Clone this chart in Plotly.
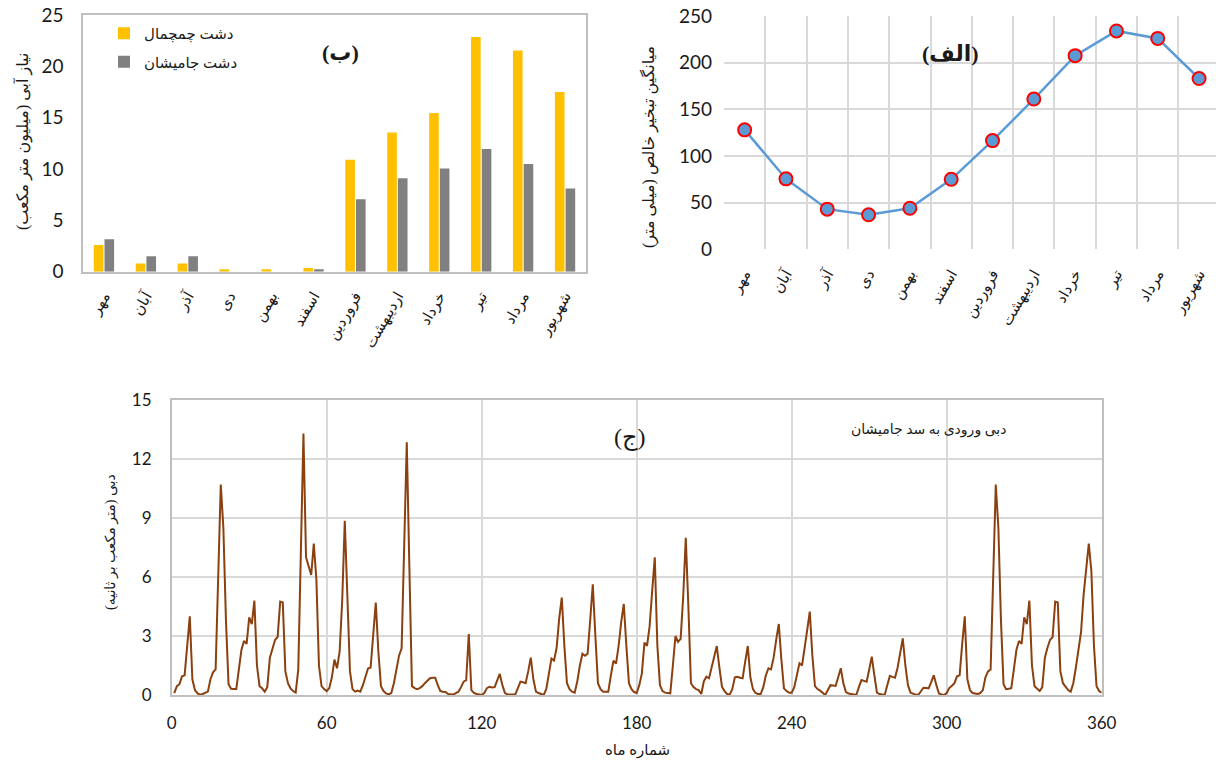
import plotly.graph_objects as go

# ---------------- data ----------------
months = ["مهر", "آبان", "آذر", "دی", "بهمن", "اسفند",
          "فروردین", "اردیبهشت", "خرداد", "تیر", "مرداد", "شهریور"]

# panel (ب): water demand (million m3)
demand_chamchamal = [2.6, 0.8, 0.8, 0.25, 0.25, 0.35, 10.9, 13.55, 15.45, 22.85, 21.55, 17.5]
demand_jamishan = [3.15, 1.5, 1.5, 0.0, 0.0, 0.25, 7.05, 9.1, 10.05, 11.95, 10.5, 8.1]

# panel (الف): mean net evaporation (mm)
evaporation = [128, 75.5, 43, 37, 44, 75, 116.5, 161, 207.5, 234, 226, 183]

# panel (ج): monthly inflow to Jamishan dam (m3/s), one row per year
inflow_years = [
    [0.1, 0.45, 0.55, 0.95, 1.0, 2.6, 4.0, 0.8, 0.25, 0.08, 0.02, 0.05],
    [0.1, 0.17, 0.8, 1.15, 1.3, 6.4, 10.7, 8.5, 3.8, 0.55, 0.32, 0.3],
    [0.3, 1.3, 2.3, 2.75, 2.6, 3.95, 3.6, 4.8, 1.5, 0.45, 0.34, 0.17],
    [0.4, 1.9, 2.4, 2.8, 2.95, 4.75, 4.7, 1.2, 0.6, 0.34, 0.2, 0.12],
    [1.3, 7.0, 13.3, 7.0, 6.5, 6.1, 7.7, 5.9, 1.5, 0.45, 0.3, 0.2],
    [0.35, 0.9, 1.8, 1.36, 2.2, 4.8, 8.86, 5.5, 1.2, 0.3, 0.17, 0.22],
    [0.17, 0.5, 0.95, 1.35, 1.4, 2.9, 4.7, 2.2, 0.45, 0.2, 0.08, 0.03],
    [0.1, 0.6, 1.4, 2.0, 2.37, 7.2, 12.85, 6.5, 0.45, 0.35, 0.3, 0.35],
    [0.45, 0.6, 0.75, 0.85, 0.88, 0.88, 0.5, 0.2, 0.17, 0.15, 0.05, 0.02],
    [0.02, 0.1, 0.17, 0.4, 0.68, 0.75, 3.1, 0.25, 0.1, 0.05, 0.02, 0.0],
    [0.1, 0.35, 0.42, 0.38, 0.4, 0.75, 1.07, 0.5, 0.1, 0.03, 0.02, 0.02],
    [0.03, 0.35, 0.68, 0.65, 0.6, 1.2, 1.9, 0.8, 0.17, 0.1, 0.05, 0.0],
    [0.3, 1.2, 1.85, 1.75, 2.4, 3.9, 4.95, 2.5, 0.6, 0.3, 0.17, 0.12],
    [0.7, 1.5, 2.1, 2.0, 2.1, 3.8, 5.63, 3.0, 0.6, 0.3, 0.17, 0.17],
    [0.17, 1.0, 1.75, 1.6, 2.5, 3.7, 4.63, 2.5, 0.6, 0.3, 0.15, 0.1],
    [0.5, 1.1, 2.66, 2.5, 3.5, 5.3, 7.0, 2.5, 0.5, 0.2, 0.12, 0.1],
    [0.08, 1.5, 3.0, 2.7, 2.85, 5.0, 8.0, 4.5, 0.6, 0.4, 0.3, 0.25],
    [0.05, 0.7, 0.93, 0.85, 1.4, 2.0, 2.49, 1.4, 0.42, 0.2, 0.05, 0.02],
    [0.3, 0.9, 0.93, 0.88, 0.85, 1.7, 2.49, 0.9, 0.3, 0.1, 0.05, 0.05],
    [0.4, 1.0, 1.36, 1.3, 1.9, 2.8, 3.61, 1.8, 0.34, 0.2, 0.12, 0.12],
    [0.4, 1.0, 1.61, 1.5, 2.3, 3.3, 4.24, 2.0, 0.45, 0.3, 0.22, 0.1],
    [0.0, 0.25, 0.5, 0.48, 0.46, 0.9, 1.36, 0.6, 0.15, 0.08, 0.05, 0.02],
    [0.0, 0.4, 0.76, 0.72, 0.68, 1.3, 1.95, 1.0, 0.12, 0.05, 0.02, 0.0],
    [0.5, 0.97, 0.92, 0.88, 1.4, 2.1, 2.88, 1.5, 0.5, 0.12, 0.05, 0.02],
    [0.0, 0.2, 0.37, 0.36, 0.34, 0.65, 1.0, 0.5, 0.08, 0.03, 0.0, 0.1],
    [0.35, 0.47, 0.6, 0.95, 1.0, 2.6, 4.0, 0.8, 0.25, 0.1, 0.06, 0.05],
    [0.1, 0.25, 0.9, 1.2, 1.3, 6.4, 10.7, 8.5, 3.8, 0.55, 0.3, 0.32],
    [0.35, 1.3, 2.3, 2.75, 2.6, 3.95, 3.6, 4.8, 1.5, 0.45, 0.34, 0.2],
    [0.4, 1.9, 2.4, 2.8, 2.95, 4.75, 4.7, 1.2, 0.6, 0.4, 0.25, 0.17],
    [0.6, 1.4, 2.2, 3.2, 5.1, 6.5, 7.7, 6.3, 2.5, 0.45, 0.2, 0.12],
]
inflow = [v for year in inflow_years for v in year]
month_index = list(range(1, len(inflow) + 1))

# ---------------- styling ----------------
FA = "Liberation Serif, DejaVu Sans, serif"
NUM = "Lato, Carlito, Calibri, sans-serif"
GRID = "#d9d9d9"
AXL = "#bfbfbf"
TXT = "#1a1a1a"

fig = go.Figure()

fig.add_trace(go.Bar(x=months, y=demand_chamchamal, name="دشت چمچمال",
                     marker=dict(color="#FFC000", line=dict(width=0)),
                     xaxis="x", yaxis="y", legendgroup="a"))
fig.add_trace(go.Bar(x=months, y=demand_jamishan, name="دشت جامیشان",
                     marker=dict(color="#808080", line=dict(width=0)),
                     xaxis="x", yaxis="y", legendgroup="b"))

fig.add_trace(go.Scatter(x=months, y=evaporation, mode="lines+markers",
                         xaxis="x2", yaxis="y2", showlegend=False,
                         line=dict(color="#5B9BD5", width=2.5),
                         marker=dict(size=13, color="#5B9BD5",
                                     line=dict(color="#FF0000", width=2))))

fig.add_trace(go.Scatter(x=month_index, y=inflow, mode="lines",
                         xaxis="x3", yaxis="y3", showlegend=False,
                         line=dict(color="#8B4010", width=2)))

W, H = 1216, 763


def px(x):
    return x / W


def py(y):
    return 1 - y / H


fig.update_layout(
    width=W, height=H,
    margin=dict(l=0, r=0, t=0, b=0),
    paper_bgcolor="white", plot_bgcolor="white",
    barmode="group", bargap=0.49, bargroupgap=0.1,
    font=dict(family=NUM, color=TXT),
    legend=dict(x=px(104), y=py(17), xanchor="left", yanchor="top",
                bgcolor="rgba(0,0,0,0)", tracegroupgap=6,
                font=dict(family=FA, size=15, color=TXT)),
    xaxis=dict(domain=[px(83), px(586)], anchor="y", type="category",
               range=[-0.5, 11.5], tickangle=-60, ticks="", automargin=False,
               ticklabelstandoff=8,
               tickfont=dict(family=FA, size=15, color=TXT),
               showline=True, mirror=True, linecolor=AXL, linewidth=1.5,
               showgrid=False, zeroline=False),
    yaxis=dict(domain=[py(271.7), py(15)], anchor="x", range=[0, 25], dtick=5,
               showline=True, mirror=True, linecolor=AXL, linewidth=1.5,
               showgrid=False, zeroline=False, ticks="", automargin=False,
               ticklabelstandoff=14,
               tickfont=dict(family=NUM, size=19, color=TXT)),
    xaxis2=dict(domain=[px(724), 1.0], anchor="y2", type="category",
                range=[-0.5, 11.41], tickson="boundaries", ticks="",
                tickangle=-60, tickfont=dict(family=FA, size=15, color=TXT),
                ticklabelstandoff=12,
                showgrid=True, gridcolor=GRID, gridwidth=2, automargin=False,
                showline=False, zeroline=False),
    yaxis2=dict(domain=[py(249.3), py(16)], anchor="x2", range=[0, 250],
                dtick=50, showgrid=True, gridcolor=GRID, gridwidth=2,
                zeroline=False, showline=False, ticks="", automargin=False,
                ticklabelstandoff=11,
                tickfont=dict(family=NUM, size=19, color=TXT)),
    xaxis3=dict(domain=[px(171.7), px(1101.7)], anchor="y3", range=[0, 360],
                tick0=0, dtick=60, showgrid=True, gridcolor=GRID, gridwidth=1.5,
                showline=True, mirror=True, linecolor=AXL, linewidth=1.5,
                zeroline=False, ticks="", automargin=False,
                ticklabelstandoff=12,
                tickfont=dict(family=NUM, size=17, color=TXT)),
    yaxis3=dict(domain=[py(695), py(400)], anchor="x3", range=[0, 15],
                dtick=3, showgrid=True, gridcolor=GRID, gridwidth=1.5,
                showline=True, mirror=True, linecolor=AXL, linewidth=1.5,
                zeroline=False, ticks="", automargin=False,
                ticklabelstandoff=15,
                tickfont=dict(family=NUM, size=17, color=TXT)),
)

annotations = [
    dict(text="<b>(ب)</b>", x=px(340), y=py(52), size=22),
    dict(text="<b>(الف)</b>", x=px(950), y=py(53), size=22),
    dict(text="(ج)", x=px(630), y=py(437), size=24),
    dict(text="دبی ورودی به سد جامیشان", x=px(928), y=py(430), size=14),
    dict(text="نیاز آبی (میلیون متر مکعب)", x=px(23), y=py(142), size=16, angle=-90),
    dict(text="میانگین تبخیر خالص (میلی متر)", x=px(649), y=py(147), size=16, angle=-90),
    dict(text="دبی (متر مکعب بر ثانیه)", x=px(111), y=py(542), size=14, angle=-90),
    dict(text="شماره ماه", x=px(637), y=py(750), size=15),
]
for a in annotations:
    fig.add_annotation(text=a["text"], x=a["x"], y=a["y"], xref="paper", yref="paper",
                       showarrow=False, xanchor="center", yanchor="middle",
                       textangle=a.get("angle", 0),
                       font=dict(family=FA, size=a["size"], color=TXT))

fig.write_html("out.html",
               config={"displayModeBar": False},
               post_script="document.body.style.margin='0px';"
                           "document.body.style.overflow='hidden';")
